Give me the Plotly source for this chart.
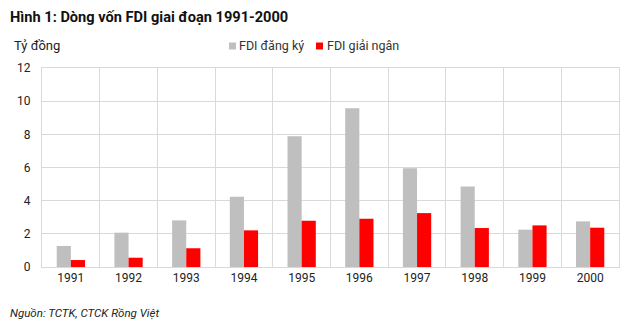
import plotly.graph_objects as go

years = [1991, 1992, 1993, 1994, 1995, 1996, 1997, 1998, 1999, 2000]
year_labels = [str(y) for y in years]
fdi_dang_ky = [1.27, 2.07, 2.81, 4.23, 7.89, 9.58, 5.95, 4.86, 2.25, 2.75]
fdi_giai_ngan = [0.42, 0.56, 1.13, 2.21, 2.79, 2.91, 3.25, 2.35, 2.51, 2.37]
y_ticks = [0, 2, 4, 6, 8, 10, 12]
series_names = ["FDI đăng ký", "FDI giải ngân"]
series_colors = ["#bfbfbf", "#ff0000"]

FONT = "Roboto, Arial, sans-serif"
GRID = "#d9d9d9"

W, H = 640, 324
ML, MR, MT, MB = 42, 21, 68, 57
pw = W - ML - MR
ph = H - MT - MB

def px(x):
    return (x - ML) / pw

def py(y):
    return (H - MB - y) / ph

fig = go.Figure()
for vals, name, col in zip([fdi_dang_ky, fdi_giai_ngan], series_names, series_colors):
    fig.add_trace(go.Bar(x=years, y=vals, name=name, marker_color=col, marker_line_width=0))

annotations = [
    dict(text="<b>Hình 1: Dòng vốn FDI giai đoạn 1991-2000</b>", x=px(8), y=py(17),
         xanchor="left", yanchor="middle", font=dict(size=14.6, color="#111")),
    dict(text="Tỷ đồng", x=px(12), y=py(46), xanchor="left", yanchor="middle",
         font=dict(size=13, color="#222")),
    dict(text="<i>Nguồn: TCTK, CTCK Rồng Việt</i>", x=px(8), y=py(313),
         xanchor="left", yanchor="middle", font=dict(size=11.5, color="#222")),
]
shapes = []
legend_sq_x = [229, 316]
legend_txt_x = [237, 325]
for sx, tx, name, col in zip(legend_sq_x, legend_txt_x, series_names, series_colors):
    shapes.append(dict(type="rect", xref="paper", yref="paper",
                       x0=px(sx), x1=px(sx + 7), y0=py(42.5), y1=py(49.5),
                       fillcolor=col, line_width=0))
    annotations.append(dict(text=name, x=px(tx), y=py(46), xanchor="left", yanchor="middle",
                            font=dict(size=12.5, color="#333")))
for a in annotations:
    a.update(xref="paper", yref="paper", showarrow=False)

fig.update_layout(
    width=W, height=H,
    margin=dict(l=ML, r=MR, t=MT, b=MB),
    paper_bgcolor="white", plot_bgcolor="white",
    barmode="group", bargap=0.51, bargroupgap=0,
    font=dict(family=FONT, size=12, color="#222"),
    showlegend=False,
    xaxis=dict(
        range=[1990.5, 2000.5], tickmode="array", tickvals=years, ticktext=year_labels,
        showgrid=False, zeroline=False, showline=True, mirror=True, linecolor=GRID,
        ticks="", tickfont=dict(size=12, color="#222"),
        minor=dict(tickmode="array", tickvals=[y + 0.5 for y in [1990] + years],
                   showgrid=True, gridcolor=GRID, gridwidth=1),
    ),
    yaxis=dict(
        range=[0, 12], tickmode="array", tickvals=y_ticks,
        showgrid=True, gridcolor=GRID, gridwidth=1, zeroline=False,
        showline=True, mirror=True, linecolor=GRID, ticks="",
        tickfont=dict(size=12, color="#222"), ticklabelstandoff=8,
    ),
    annotations=annotations,
    shapes=shapes,
)

fig.write_html("out.html")
